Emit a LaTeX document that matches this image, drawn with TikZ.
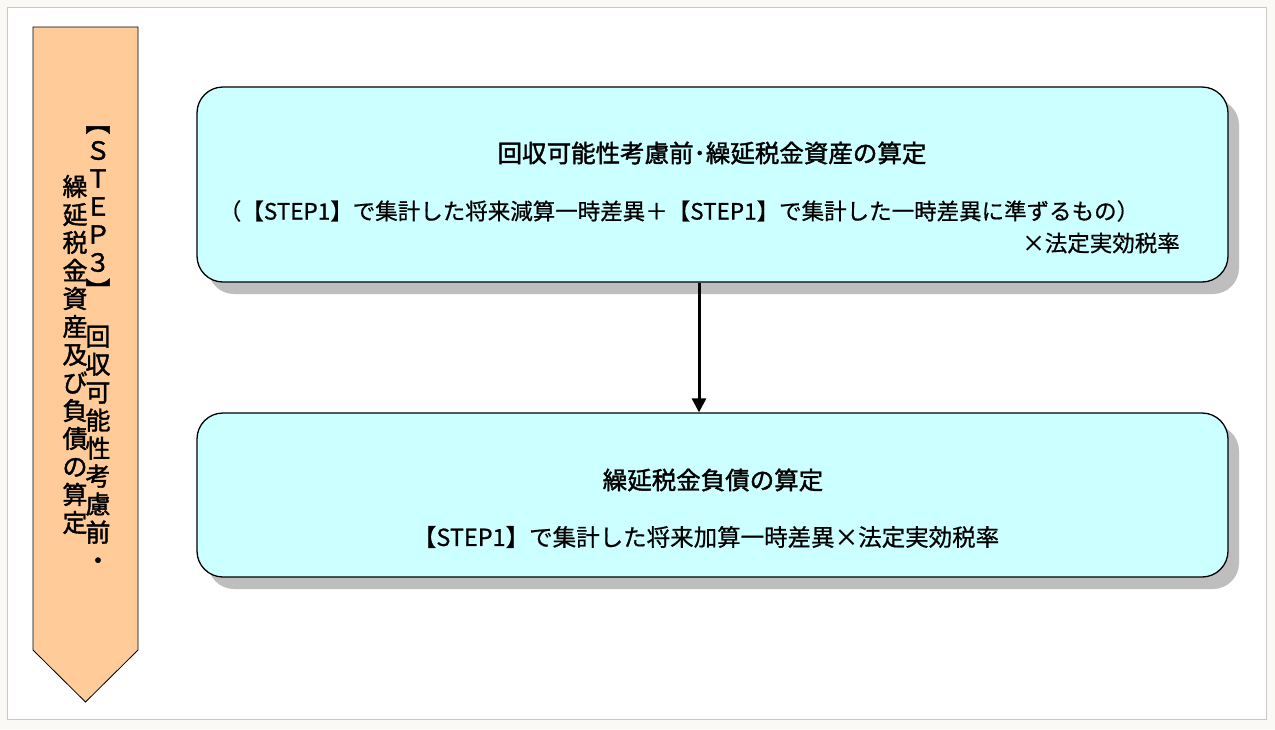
\documentclass[tikz,border=0pt]{standalone}
\usepackage{fontspec}
\usetikzlibrary{arrows.meta,shadows}
\newfontfamily\jpfont{Noto Sans CJK JP}[FakeBold=0.6]
\newfontfamily\jpbold{Noto Sans CJK JP}[FakeBold=1.6]
\definecolor{boxcyan}{HTML}{CCFFFF}
\definecolor{steporange}{HTML}{FFCC99}
\definecolor{pagegray}{HTML}{FAF9F5}
\definecolor{framegray}{HTML}{C8C8C8}
\definecolor{shadowgray}{HTML}{BEBEBE}

\begin{document}
\begin{tikzpicture}[x=1pt,y=-1pt,
  stepbox/.style={draw=black, line width=1.3pt, fill=boxcyan, rounded corners=26pt,
    minimum width=1031pt, inner sep=0pt,
    drop shadow={shadow xshift=11pt, shadow yshift=-12pt, fill=shadowgray, opacity=1}},
  boxtext/.style={inner sep=0pt, font=\jpfont\fontsize{22.5}{27}\selectfont},
  boxtitle/.style={inner sep=0pt, font=\jpbold\fontsize{24.5}{28}\selectfont},
  vtext/.style={inner sep=0pt, align=center, font=\jpbold\fontsize{25}{28}\selectfont}]
%\draw [help lines, step=50] (0,0) grid (1275,729);

\useasboundingbox (0,0) rectangle (1275,729);

% page and frame
\fill [pagegray] (0,0) rectangle (1275,729);
\draw [framegray, fill=white] (7,7) rectangle (1266,719);

% STEP3 arrow on the left
\draw [fill=steporange, line width=0.8pt] (33,27)--(138,27)--(138,650)--(85.5,702)--(33,650)--cycle;
\node (stepa) [vtext] at (98,348) {︻\\Ｓ\\Ｔ\\Ｅ\\Ｐ\\３\\︼\\[18pt]回\\収\\可\\能\\性\\考\\慮\\前\\・};
\node (stepb) [vtext] at (75,354.5) {繰\\延\\税\\金\\資\\産\\及\\び\\負\\債\\の\\算\\定};

% upper box
\node (box1) [stepbox, minimum height=195pt] at (712.5,184.5) {};
\node (title1) [boxtitle] at (712,153) {回収可能性考慮前･繰延税金資産の算定};
\node (sum1) [boxtext] at (679,211)
  {（【STEP1】で集計した将来減算一時差異＋【STEP1】で集計した一時差異に準ずるもの）};
\node (rate1) [boxtext, anchor=east] at (1180,243) {×法定実効税率};

% lower box
\node (box2) [stepbox, minimum height=164pt] at (712.5,495) {};
\node (title2) [boxtitle] at (713,480) {繰延税金負債の算定};
\node (sum2) [boxtext, font=\jpfont\fontsize{23.5}{28}\selectfont] at (706,537)
  {【STEP1】で集計した将来加算一時差異×法定実効税率};

% arrow between the boxes
\draw [line width=3pt, -{Triangle[length=14pt,width=14pt]}] ([xshift=-13.5pt]box1.south) -- ([xshift=-13.5pt]box2.north);

\end{tikzpicture}
\end{document}
